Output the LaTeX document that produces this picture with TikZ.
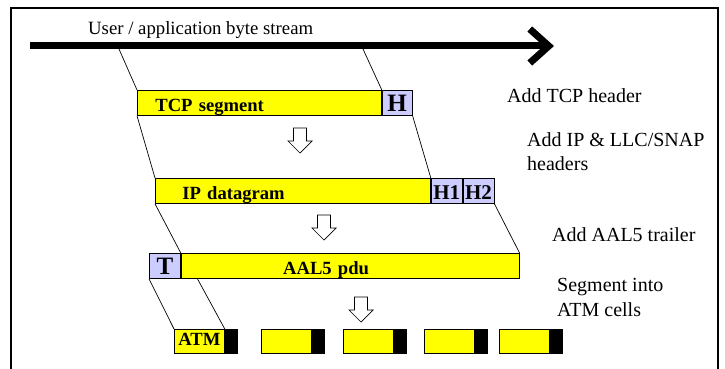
\documentclass[tikz,border=0pt]{standalone}
\usepackage{fontspec}
\setmainfont{Liberation Serif}
\usetikzlibrary{arrows.meta,positioning}

\definecolor{hdrblue}{RGB}{204,204,255}
\definecolor{pduyellow}{RGB}{255,255,0}

\tikzset{
	unit/.style={draw,line width=0.8pt,inner sep=0pt,anchor=north west,
		minimum height=25pt,text height=21.5pt,text depth=3.5pt,
		font=\fontsize{18.6}{20}\selectfont\bfseries},
	body/.style={unit,fill=pduyellow,align=left},
	hdr/.style={unit,fill=hdrblue},
	cell/.style={unit,fill=pduyellow,minimum width=50pt,minimum height=24pt,
		text height=16pt,text depth=8pt},
	tail/.style={unit,fill=black,minimum width=12pt,minimum height=24pt,
		text height=16pt,text depth=8pt},
	trace/.style={line width=0.7pt},
	stream/.style={line width=7pt,-{Straight Barb[length=19pt,width=34pt]}},
	downarrow/.style={draw,line width=0.7pt,fill=white},
	note/.style={anchor=west,inner sep=0pt,align=left,
		font=\fontsize{20}{24}\selectfont}
}

\begin{document}
\begin{tikzpicture}[x=1pt,y=-1pt]
	\useasboundingbox (0,0) rectangle (725,369);
	\draw [line width=1.2pt] (11,369) -- (11,8) -- (718,8) -- (718,369);
	
	% byte stream
	\coordinate (stream start) at (30,46);
	\coordinate (stream end) at (554,46);
	\draw [stream] (stream start) -- (stream end);
	\node [anchor=base west,inner sep=0pt,font=\fontsize{18.75}{20}\selectfont] (stream label) at (88,35) {User / application byte stream};
	\coordinate (cut a) at (119,49);
	\coordinate (cut b) at (363,49);
	
	% packets
	\node [body,text width=208pt,inner xsep=18pt] (tcp) at (137,90) {TCP segment};
	\node [hdr,right=0pt of tcp,minimum width=30pt,font=\fontsize{25}{26}\selectfont\bfseries] (h) {H};
	
	\node [body,text width=221pt,inner xsep=27pt] (ip) at (155,178) {IP datagram};
	\node [hdr,right=0pt of ip,minimum width=31pt,font=\fontsize{21}{22}\selectfont\bfseries] (h1) {H1};
	\node [hdr,right=0pt of h1,minimum width=31pt,font=\fontsize{21}{22}\selectfont\bfseries] (h2) {H2};
	
	\node [hdr,minimum width=31pt,font=\fontsize{25}{26}\selectfont\bfseries] (t) at (149,253) {T};
	\node [body,right=0pt of t,text width=134pt,inner xsep=102pt] (pdu) {AAL5 pdu};
	\coordinate (cell cut) at (197,278);
	
	\foreach [count=\n] \x/\t in {174/ATM,261/,343/,424/,499/}{
		\node [cell] (cell \n) at (\x,329) {\t};
		\node [tail,right=0pt of cell \n] (tail \n) {};
	}
	
	\draw [trace] (cut a) -- (tcp.north west);
	\draw [trace] (cut b) -- (h.north west);
	\draw [trace] (tcp.south west) -- (ip.north west);
	\draw [trace] (h.south east) -- (h1.north west);
	\draw [trace] (ip.south west) -- (pdu.north west);
	\draw [trace] (h2.south east) -- (pdu.north east);
	\draw [trace] (t.south west) -- (cell 1.north west);
	\draw [trace] (cell cut) -- (cell 1.north east);
	
	\foreach \cx/\ty in {300/128,324/215,361/297}
		\draw [downarrow] (\cx-6.5,\ty) -- (\cx+6.5,\ty) -- (\cx+6.5,\ty+13) -- (\cx+12,\ty+13) -- (\cx,\ty+25) -- (\cx-12,\ty+13) -- (\cx-6.5,\ty+13) -- cycle;
	
	% steps
	\node [note] (note tcp) at (507,96) {Add TCP header};
	\node [note] (note ip) at (527,151.5) {Add IP \& LLC/SNAP\\headers};
	\node [note] (note aal) at (552,235) {Add AAL5 trailer};
	\node [note,font=\fontsize{20}{25}\selectfont] (note cells) at (557,297.5) {Segment into\\ATM cells};
\end{tikzpicture}
\end{document}
